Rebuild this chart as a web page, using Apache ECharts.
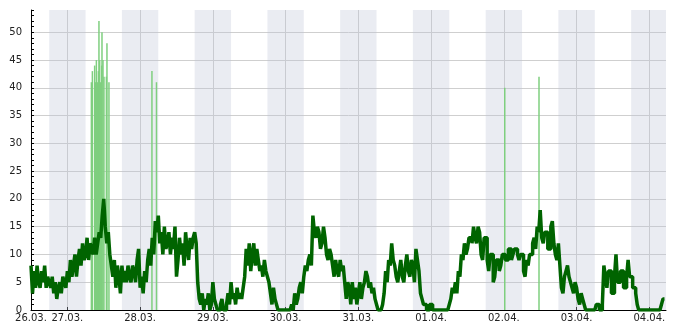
<!DOCTYPE html>
<html><head><meta charset="utf-8">
<script src="https://cdn.jsdelivr.net/npm/echarts@6/dist/echarts.min.js"></script>
<style>html,body{margin:0;padding:0;background:#fff}#c{width:685px;height:330px}</style>
</head><body><div id="c"></div>
<script>
// x axis in hours since 26.03. 00:00
const tickHours = [12,24,48,72,96,120,144,168,192,216];
const tickLabels = ['26.03.','27.03.','28.03.','29.03.','30.03.','31.03.','01.04.','02.04.','03.04.','04.04.'];
const nightStarts = [18,42,66,90,114,138,162,186,210];
const nightEnds   = [30,54,78,102,126,150,174,198,222];

// half-hourly level values starting at hour 12
const levelStartHour = 12;
const levelStepHours = 0.5;
const levelValues = [
 8,3, 7,4, 8,5, 4,7, 5,8, 4,6, 5,4, 6,3, 5,2, 4,5, 3,6, 5,4,            // 12-23
 7,5, 9,6, 8,10, 6,9, 11,8, 12,9, 10,13, 9,12, 11,10, 13,10, 12,14, 13,17, // 24-35
 20,15, 12,14, 10,8, 6,9, 4,8, 6,3, 8,5, 7,5, 8,6, 5,8, 7,5, 9,11,       // 36-47
 4,6, 3,7, 5,9, 11,8, 13,10, 16,14, 17,12, 14,10, 15,11, 12,14, 10,13, 11,15, // 48-59
 6,9, 13,10, 12,8, 14,11, 9,13, 11,13, 14,12, 5,2, 1,3, 0,2, 1,3, 0,1,   // 60-71
 5,2, 1,0, 0,1, 2,0, 0,1, 3,1, 5,2, 3,1, 4,2, 3,2, 4,6, 11,8,            // 72-83
 12,7, 10,12, 8,11, 9,7, 8,6, 9,7, 6,5, 3,1, 4,2, 1,0, 0,0, 0,0,         // 84-95
 0,0, 0,0, 1,0, 3,1, 2,4, 5,3, 6,8, 7,9, 10,8, 17,14, 13,15, 14,11,      // 96-107
 12,15, 13,10, 9,11, 10,8, 6,9, 7,6, 9,7, 8,5, 2,5, 4,1, 5,2, 4,1,       // 108-119
 3,5, 2,4, 5,7, 6,4, 5,3, 4,2, 1,0, 0,0, 1,3, 7,5, 9,8, 12,9,            // 120-131
 8,6, 5,7, 9,6, 5,8, 10,7, 6,9, 8,5, 11,9, 7,3, 2,1, 1,0, 0,1,           // 132-143
 1,0, 0,0, 0,0, 0,0, 0,0, 0,0, 1,2, 4,3, 5,3, 7,6, 10,9, 12,10,          // 144-155
 11,13, 13,12, 15,13, 12,15, 14,10, 9,13, 13,9, 7,10, 10,5, 6,9, 9,7, 8,10, // 156-167
 10,9, 9,11, 11,9, 10,11, 11,10, 9,10, 10,7, 6,9, 8,10, 10,12, 13,11, 15,14, // 168-179
 18,13, 12,14, 14,11, 11,15, 16,12, 10,9, 12,8, 4,3, 6,7, 8,6, 5,4, 3,5, // 180-191
 4,2, 1,3, 2,1, 0,0, 0,0, 0,0, 0,1, 1,0, 0,1, 8,6, 4,7, 7,3,             // 192-203
 3,6, 10,5, 5,7, 7,4, 4,6, 9,6, 6,4, 4,3, 1,0, 0,0, 0,0, 0,0,            // 204-215
 0,0, 0,0, 0,0, 0,0, 1,2, 2                                              // 216-221
];

const rainHours  = [31.92,32.25,33.0,33.3,33.57,33.9,34.23,34.42,34.66,34.99,35.32,35.42,35.75,36.07,36.87,37.06,37.72,51.9,53.4,168.3,179.6];
const rainValues = [41,43,44,41,45,41,43,52,45,41,44,50,45,42,42,48,41,43,41,40,42];

const xMin = 12, xMax = 221.5;
const yMax = 54;

const levelData = levelValues.map((v,i)=>[levelStartHour+i*levelStepHours, v]);
const rainData = rainHours.map((h,i)=>[h, rainValues[i]]);
const nightData = nightStarts.map((s,i)=>[s, nightEnds[i]]);

const font = {fontFamily:'DejaVu Sans', fontSize:10, color:'#222'};
const chart = echarts.init(document.getElementById('c'), null, {renderer:'canvas'});
chart.setOption({
  animation:false,
  backgroundColor:'#fff',
  grid:{left:31, right:19, top:10, bottom:20, containLabel:false},
  xAxis:{
    type:'value', min:xMin, max:xMax,
    axisLine:{show:true, onZero:false, lineStyle:{color:'#000', width:1}},
    axisTick:{show:true, inside:true, length:3, customValues:tickHours, lineStyle:{color:'#000'}},
    axisLabel:Object.assign({customValues:tickHours, margin:3, showMinLabel:true, showMaxLabel:true,
      formatter:(v)=>{const i=tickHours.indexOf(v); return i>=0?tickLabels[i]:'';}}, font),
    splitLine:{show:true, lineStyle:{color:'#cfcfcf', width:1}}
  },
  yAxis:{
    type:'value', min:0, max:yMax, interval:1,
    axisLine:{show:true, lineStyle:{color:'#000', width:1}},
    axisTick:{show:true, inside:true, length:3, lineStyle:{color:'#000'}},
    axisLabel:Object.assign({margin:9, formatter:(v)=> (v%5===0 && v<=50)? String(v):''}, font),
    splitLine:{show:true, lineStyle:{color:['#cfcfcf','rgba(0,0,0,0)','rgba(0,0,0,0)','rgba(0,0,0,0)','rgba(0,0,0,0)'], width:1}}
  },
  series:[
    {type:'custom', data:nightData, silent:true, z:1, encode:{x:[0,1]},
     renderItem:(params, api)=>{
       const p0 = api.coord([api.value(0), yMax]);
       const p1 = api.coord([api.value(1), 0]);
       const cs = params.coordSys;
       const shape = echarts.graphic.clipRectByRect(
         {x:p0[0], y:p0[1], width:p1[0]-p0[0], height:p1[1]-p0[1]},
         {x:cs.x, y:cs.y, width:cs.width, height:cs.height});
       return shape ? {type:'rect', shape:shape, style:{fill:'rgba(190,195,215,0.32)'}} : null;
     }},
    {type:'bar', data:rainData, barWidth:1.5, itemStyle:{color:'#7fcf7f'}, silent:true, z:3},
    {type:'line', data:levelData, step:'end', showSymbol:false, silent:true, z:4,
     lineStyle:{color:'#006400', width:3.5}}
  ]
});
</script></body></html>
